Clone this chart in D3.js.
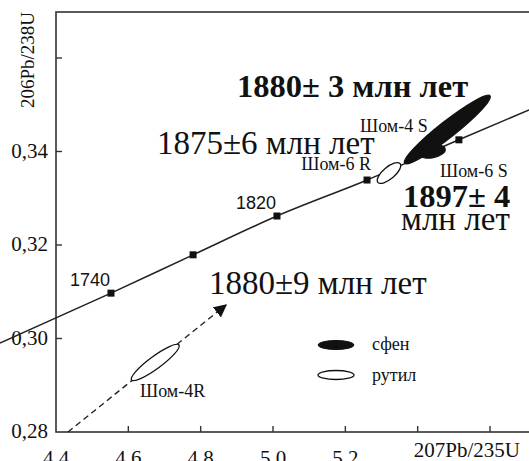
<!DOCTYPE html>
<html>
<head>
<meta charset="utf-8">
<script src="https://cdn.jsdelivr.net/npm/d3@7"></script>
<style>
  body { margin: 0; background: #fff; }
  svg text { font-family: "Liberation Serif", "Times New Roman", serif; fill: #111; }
</style>
</head>
<body>
<svg id="chart" width="529" height="461"></svg>
<script>
// concordia (ends run past the frame)
var concordiaX = [4.245, 4.552, 4.779, 5.011, 5.260, 5.514, 5.708];
var concordiaY = [0.2990, 0.3097, 0.3179, 0.3262, 0.3339, 0.3425, 0.3489];

// age markers on the concordia, Ma
var markerAge = [1740, 1780, 1820, 1860, 1900];
var markerX = [4.552, 4.779, 5.011, 5.260, 5.514];
var markerY = [0.3097, 0.3179, 0.3262, 0.3339, 0.3425];
var markerLabelled = [1740, 1820];

// error ellipses: centre, one end of the long axis, short/long axis ratio
var ellipseName = ["Шом-4 S", "Шом-6 S", "Шом-6 R", "Шом-4R"];
var ellipseMineral = ["sphene", "sphene", "rutile", "rutile"];
var ellipseCX = [5.482, 5.4402, 5.3207, 4.6745];
var ellipseCY = [0.3447, 0.3400, 0.3354, 0.29487];
var ellipseTX = [5.600, 5.476, 5.3514, 4.7401];
var ellipseTY = [0.3519, 0.34053, 0.33739, 0.29861];
var ellipseRatio = [0.15, 0.47, 0.41, 0.21];

// dashed discordia arrow through Шом-4R
var arrowX = [4.433, 4.870];
var arrowY = [0.28, 0.30717];

var xTicks = [4.4, 4.6, 4.8, 5.0, 5.2, 5.4, 5.6];
var xTickLabels = ["4,4", "4,6", "4,8", "5,0", "5,2"];
var yTicks = [0.28, 0.30, 0.32, 0.34, 0.36];
var yTickLabels = ["0,28", "0,30", "0,32", "0,34"];

var svg = d3.select("#chart"),
    width = +svg.attr("width"),
    height = +svg.attr("height");

var x = d3.scaleLinear().domain([4.4, 5.6]).range([56, 490]);
var y = d3.scaleLinear().domain([0.28, 0.36]).range([432, 58]);

var ink = "#222";

// frame
svg.append("rect")
    .attr("x", x(4.4)).attr("y", 12)
    .attr("width", width - x(4.4) + 10).attr("height", y(0.28) - 12)
    .attr("fill", "none").attr("stroke", "#333").attr("stroke-width", 1.6);

// ticks point inwards
svg.append("g").selectAll("line")
    .data(xTicks.slice(1))
    .enter().append("line")
    .attr("x1", function (d) { return x(d); })
    .attr("x2", function (d) { return x(d); })
    .attr("y1", y(0.28)).attr("y2", y(0.28) - 6)
    .attr("stroke", "#333").attr("stroke-width", 1.4);

svg.append("g").selectAll("line")
    .data(yTicks.slice(1))
    .enter().append("line")
    .attr("x1", x(4.4)).attr("x2", x(4.4) + 6)
    .attr("y1", function (d) { return y(d); })
    .attr("y2", function (d) { return y(d); })
    .attr("stroke", "#333").attr("stroke-width", 1.4);

svg.append("g").selectAll("text")
    .data(xTickLabels)
    .enter().append("text")
    .attr("x", function (d, i) { return x(xTicks[i]); })
    .attr("y", 465)
    .attr("text-anchor", "middle")
    .style("font-size", "21px")
    .text(function (d) { return d; });

svg.append("g").selectAll("text")
    .data(yTickLabels)
    .enter().append("text")
    .attr("x", 48)
    .attr("y", function (d, i) { return y(yTicks[i]) + 6; })
    .attr("text-anchor", "end")
    .style("font-size", "21px")
    .text(function (d) { return d; });

svg.append("text")
    .attr("x", 520).attr("y", 457)
    .attr("text-anchor", "end")
    .style("font-size", "21px")
    .text("207Pb/235U");

svg.append("text")
    .attr("transform", "translate(34,60) rotate(-90)")
    .attr("text-anchor", "middle")
    .style("font-size", "19px")
    .text("206Pb/238U");

// concordia
var line = d3.line()
    .x(function (d) { return x(d[0]); })
    .y(function (d) { return y(d[1]); })
    .curve(d3.curveMonotoneX);

svg.append("path")
    .datum(d3.zip(concordiaX, concordiaY))
    .attr("d", line)
    .attr("fill", "none").attr("stroke", ink).attr("stroke-width", 1.5);

svg.append("g").selectAll("rect")
    .data(markerAge)
    .enter().append("rect")
    .attr("x", function (d, i) { return x(markerX[i]) - 3.5; })
    .attr("y", function (d, i) { return y(markerY[i]) - 3.5; })
    .attr("width", 7).attr("height", 7)
    .attr("fill", "#111");

svg.append("g").selectAll("text")
    .data(markerAge.filter(function (d) { return markerLabelled.indexOf(d) >= 0; }))
    .enter().append("text")
    .attr("x", function (d) { return x(markerX[markerAge.indexOf(d)]) - 21; })
    .attr("y", function (d) { return y(markerY[markerAge.indexOf(d)]) - 7; })
    .attr("text-anchor", "middle")
    .style("font-family", "Liberation Sans, Arial, sans-serif")
    .style("font-size", "18px")
    .text(function (d) { return d; });

// dashed arrow
svg.append("defs").append("marker")
    .attr("id", "head")
    .attr("viewBox", "0 0 10 10")
    .attr("refX", 9).attr("refY", 5)
    .attr("markerWidth", 13).attr("markerHeight", 13)
    .attr("markerUnits", "userSpaceOnUse")
    .attr("orient", "auto")
    .append("path")
    .attr("d", "M0,0L10,5L0,10Z")
    .attr("fill", "#111");

svg.append("line")
    .attr("x1", x(arrowX[0])).attr("y1", y(arrowY[0]))
    .attr("x2", x(arrowX[1])).attr("y2", y(arrowY[1]))
    .attr("stroke", ink).attr("stroke-width", 1.4)
    .attr("stroke-dasharray", "6,4")
    .attr("marker-end", "url(#head)");

// ellipses
svg.append("g").selectAll("ellipse")
    .data(ellipseName)
    .enter().append("ellipse")
    .each(function (d, i) {
        var cx = x(ellipseCX[i]), cy = y(ellipseCY[i]),
            tx = x(ellipseTX[i]), ty = y(ellipseTY[i]),
            a = Math.sqrt((tx - cx) * (tx - cx) + (ty - cy) * (ty - cy)),
            ang = Math.atan2(ty - cy, tx - cx) * 180 / Math.PI;
        d3.select(this)
            .attr("rx", a).attr("ry", a * ellipseRatio[i])
            .attr("transform", "translate(" + cx + "," + cy + ") rotate(" + ang + ")");
    })
    .attr("fill", function (d, i) { return ellipseMineral[i] == "sphene" ? "#111" : "#fff"; })
    .attr("stroke", "#111").attr("stroke-width", 1.3);

// sample labels
var small = [
    { t: "Шом-4 S", x: 360, y: 132, a: "start" },
    { t: "Шом-6 R", x: 371, y: 170, a: "end" },
    { t: "Шом-6 S", x: 440, y: 177, a: "start" },
    { t: "Шом-4R", x: 140, y: 397, a: "start" }
];
svg.append("g").selectAll("text")
    .data(small)
    .enter().append("text")
    .attr("x", function (d) { return d.x; })
    .attr("y", function (d) { return d.y; })
    .attr("text-anchor", function (d) { return d.a; })
    .style("font-size", "18px")
    .text(function (d) { return d.t; });

// ages
var big = [
    { t: "1880± 3 млн лет", x: 237, y: 97, b: true, s: 32.5 },
    { t: "1875±6 млн лет", x: 157, y: 154, b: false, s: 33 },
    { t: "1897± 4", x: 403, y: 207, b: true, s: 32.5 },
    { t: "млн лет", x: 401, y: 230, b: false, s: 33 },
    { t: "1880±9 млн лет", x: 209, y: 294, b: false, s: 33 }
];
svg.append("g").selectAll("text")
    .data(big)
    .enter().append("text")
    .attr("x", function (d) { return d.x; })
    .attr("y", function (d) { return d.y; })
    .style("font-size", function (d) { return d.s + "px"; })
    .style("font-weight", function (d) { return d.b ? "bold" : "normal"; })
    .text(function (d) { return d.t; });

// legend
var legend = svg.append("g");
legend.append("ellipse")
    .attr("cx", 336).attr("cy", 345).attr("rx", 18).attr("ry", 4.5)
    .attr("fill", "#111").attr("stroke", "#111");
legend.append("ellipse")
    .attr("cx", 336).attr("cy", 375).attr("rx", 18).attr("ry", 4.5)
    .attr("fill", "#fff").attr("stroke", "#111").attr("stroke-width", 1.3);
legend.append("text").attr("x", 372).attr("y", 350)
    .style("font-size", "18px").text("сфен");
legend.append("text").attr("x", 372).attr("y", 381)
    .style("font-size", "18px").text("рутил");
</script>
</body>
</html>
